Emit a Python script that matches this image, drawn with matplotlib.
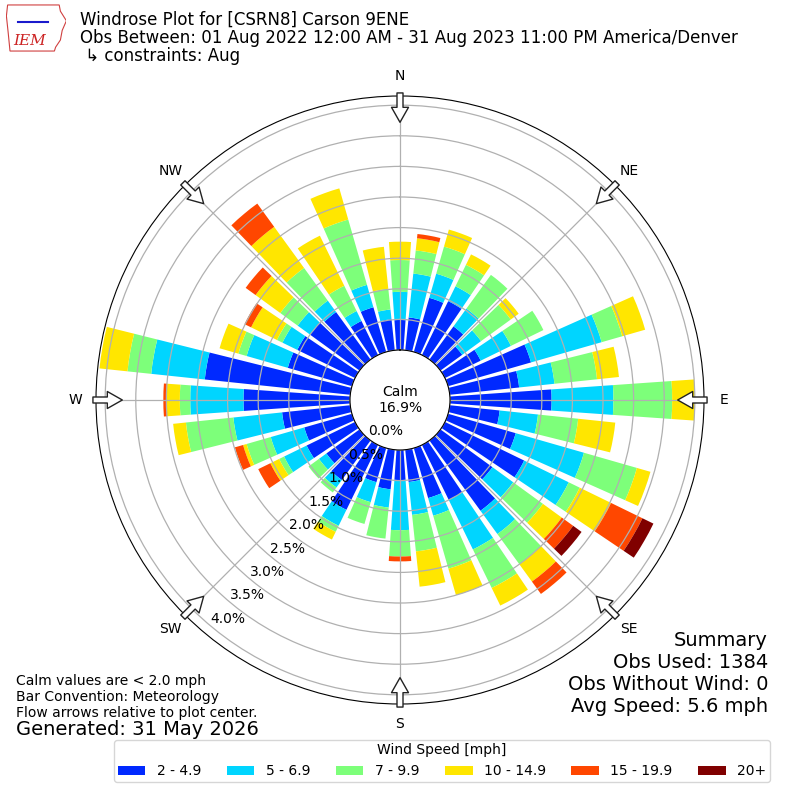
import numpy as np
import matplotlib
matplotlib.use("Agg")
import matplotlib.pyplot as plt
from matplotlib.patches import Patch, Polygon

# direction bins (degrees, meteorological "from")
directions = np.arange(0, 360, 10)

# percent of all obs, per direction, per speed bin
spd_2_5 = [0.49, 0.54, 0.92, 0.98, 0.67, 0.44, 0.65, 1.41, 1.14, 1.66,
           0.82, 1.15, 1.44, 1.05, 1.42, 1.00, 0.85, 0.53, 0.49,
           0.65, 0.58, 1.18, 0.80, 0.67, 0.88, 0.81, 1.12, 1.74,
           2.39, 1.09, 1.05, 1.00, 0.96, 0.62, 0.76, 0.51]
spd_5_7 = [0.46, 0.72, 0.41, 0.27, 0.36, 0.38, 0.55, 1.20, 0.58, 1.01,
           0.63, 1.16, 0.81, 0.42, 0.47, 0.90, 0.30, 0.54, 0.82,
           0.30, 0.34, 0.29, 0.15, 0.15, 0.41, 0.57, 0.80, 0.87,
           0.88, 0.70, 0.27, 0.25, 0.23, 0.18, 0.38, 0.16]
spd_7_10 = [0.52, 0.38, 0.46, 0.39, 0.68, 0.60, 0.59, 0.35, 0.70, 0.96,
            0.66, 0.90, 0.20, 0.60, 0.61, 0.70, 0.90, 0.60, 0.43,
            0.51, 0.37, 0.11, 0.10, 0.21, 0.09, 0.41, 0.78, 0.17,
            0.39, 0.14, 0.10, 0.35, 0.66, 0.46, 1.11, 0.34]
spd_10_15 = [0.30, 0.20, 0.29, 0.19, 0.00, 0.16, 0.00, 0.39, 0.36, 0.37,
             0.61, 0.23, 0.57, 0.38, 0.35, 0.32, 0.45, 0.58, 0.00,
             0.00, 0.00, 0.14, 0.00, 0.00, 0.16, 0.06, 0.21, 0.22,
             0.46, 0.32, 0.47, 0.50, 0.83, 0.91, 0.53, 0.69]
spd_15_20 = [0.00, 0.07, 0.00, 0.00, 0.00, 0.00, 0.00, 0.00, 0.00, 0.00,
             0.00, 0.00, 0.57, 0.23, 0.25, 0.00, 0.00, 0.00, 0.08,
             0.00, 0.00, 0.00, 0.00, 0.00, 0.22, 0.14, 0.00, 0.05,
             0.00, 0.00, 0.12, 0.20, 0.47, 0.00, 0.00, 0.00]
spd_20p = [0.00, 0.00, 0.00, 0.00, 0.00, 0.00, 0.00, 0.00, 0.00, 0.00,
           0.00, 0.00, 0.20, 0.17, 0.00, 0.00, 0.00, 0.00, 0.00,
           0.00, 0.00, 0.00, 0.00, 0.00, 0.00, 0.00, 0.00, 0.00,
           0.00, 0.00, 0.00, 0.00, 0.00, 0.00, 0.00, 0.00]

speed_bins = [spd_2_5, spd_5_7, spd_7_10, spd_10_15, spd_15_20, spd_20p]
speed_labels = ["2 - 4.9", "5 - 6.9", "7 - 9.9", "10 - 14.9", "15 - 19.9", "20+"]
calm_pct = 16.9
ring_ticks = [0.0, 0.5, 1.0, 1.5, 2.0, 2.5, 3.0, 3.5, 4.0]
compass = ["N", "NE", "E", "SE", "S", "SW", "W", "NW"]
summary_lines = ["Summary", "Obs Used: 1384", "Obs Without Wind: 0", "Avg Speed: 5.6 mph"]

colors = plt.cm.jet(np.linspace(0, 1, 7)[1:])

fig = plt.figure(figsize=(8, 8), dpi=100)
ax = fig.add_axes([0.12, 0.12, 0.76, 0.76], projection="polar")
ax.set_theta_zero_location("N")
ax.set_theta_direction(-1)

theta = np.deg2rad(directions)
bottom = np.zeros(len(directions))
for vals, c in zip(speed_bins, colors):
    vals = np.array(vals)
    ax.bar(theta, vals, width=np.deg2rad(8), bottom=bottom, color=c,
           linewidth=0, zorder=1)
    bottom += vals

ax.set_rorigin(-0.817)
ax.set_ylim(0, 4.15)
ax.set_yticks(ring_ticks)
ax.set_yticklabels(["%.1f%%" % t for t in ring_ticks], fontsize=10)
ax.set_rlabel_position(220)
ax.set_xticks(np.deg2rad(np.arange(0, 360, 45)))
ax.set_xticklabels(compass, fontsize=10)
ax.tick_params(axis="x", pad=4)
ax.grid(True, color="#b0b0b0", lw=0.9)

# flow arrows on the rim
for d in np.arange(0, 360, 45):
    th = np.deg2rad(d)
    ax.annotate("", xy=(th, 3.72), xytext=(th, 4.2),
                arrowprops=dict(arrowstyle="simple,head_length=1.5,head_width=1.7,tail_width=0.6",
                                mutation_scale=7.2, fc="white", ec="#222222", lw=1,
                                shrinkA=0, shrinkB=0),
                annotation_clip=False)

ax.text(0.5, 0.5, "Calm\n%.1f%%" % calm_pct, transform=ax.transAxes,
        ha="center", va="center", fontsize=10)

# header
fig.text(0.1, 0.986, "Windrose Plot for [CSRN8] Carson 9ENE\n"
         "Obs Between: 01 Aug 2022 12:00 AM - 31 Aug 2023 11:00 PM America/Denver\n"
         " \u21b3 constraints: Aug", ha="left", va="top", fontsize=12, linespacing=1.0)

# logo stand-in
lax = fig.add_axes([0.008, 0.935, 0.075, 0.06])
lax.set_xlim(0, 1)
lax.set_ylim(0, 1)
lax.axis("off")
lax.add_patch(Polygon([(0.02, 0.98), (0.88, 0.98), (0.9, 0.85), (1.0, 0.65), (0.93, 0.45),
                       (0.9, 0.25), (0.82, 0.1), (0.8, 0.02), (0.06, 0.02), (0.03, 0.4),
                       (0.0, 0.75)], closed=True, fc="none", ec="#d04040", lw=0.8))
lax.plot([0.2, 0.7], [0.62, 0.62], color="#1a1acc", lw=1.5)
lax.text(0.38, 0.22, "IEM", color="#cc2222", fontsize=11, style="italic",
         family="serif", ha="center", va="center")

fig.text(0.02, 0.129, "Calm values are < 2.0 mph\nBar Convention: Meteorology\n"
         "Flow arrows relative to plot center.", ha="left", va="center", fontsize=10,
         linespacing=1.2)
fig.text(0.02, 0.088, "Generated: 31 May 2026", ha="left", va="center", fontsize=14)

# summary block, one line per text so each box stays tight
for i, line in enumerate(summary_lines):
    fig.text(0.96, 0.2 - i * 0.0275, line, ha="right", va="center", fontsize=14)

handles = [Patch(facecolor=c, edgecolor="none") for c in colors]
fig.legend(handles, speed_labels, loc="lower center", bbox_to_anchor=(0.5525, 0.014),
           ncol=6, fontsize=10, title="Wind Speed [mph]", title_fontsize=10,
           columnspacing=1.85, borderpad=0.25)

fig.savefig("out.png", dpi=100)
